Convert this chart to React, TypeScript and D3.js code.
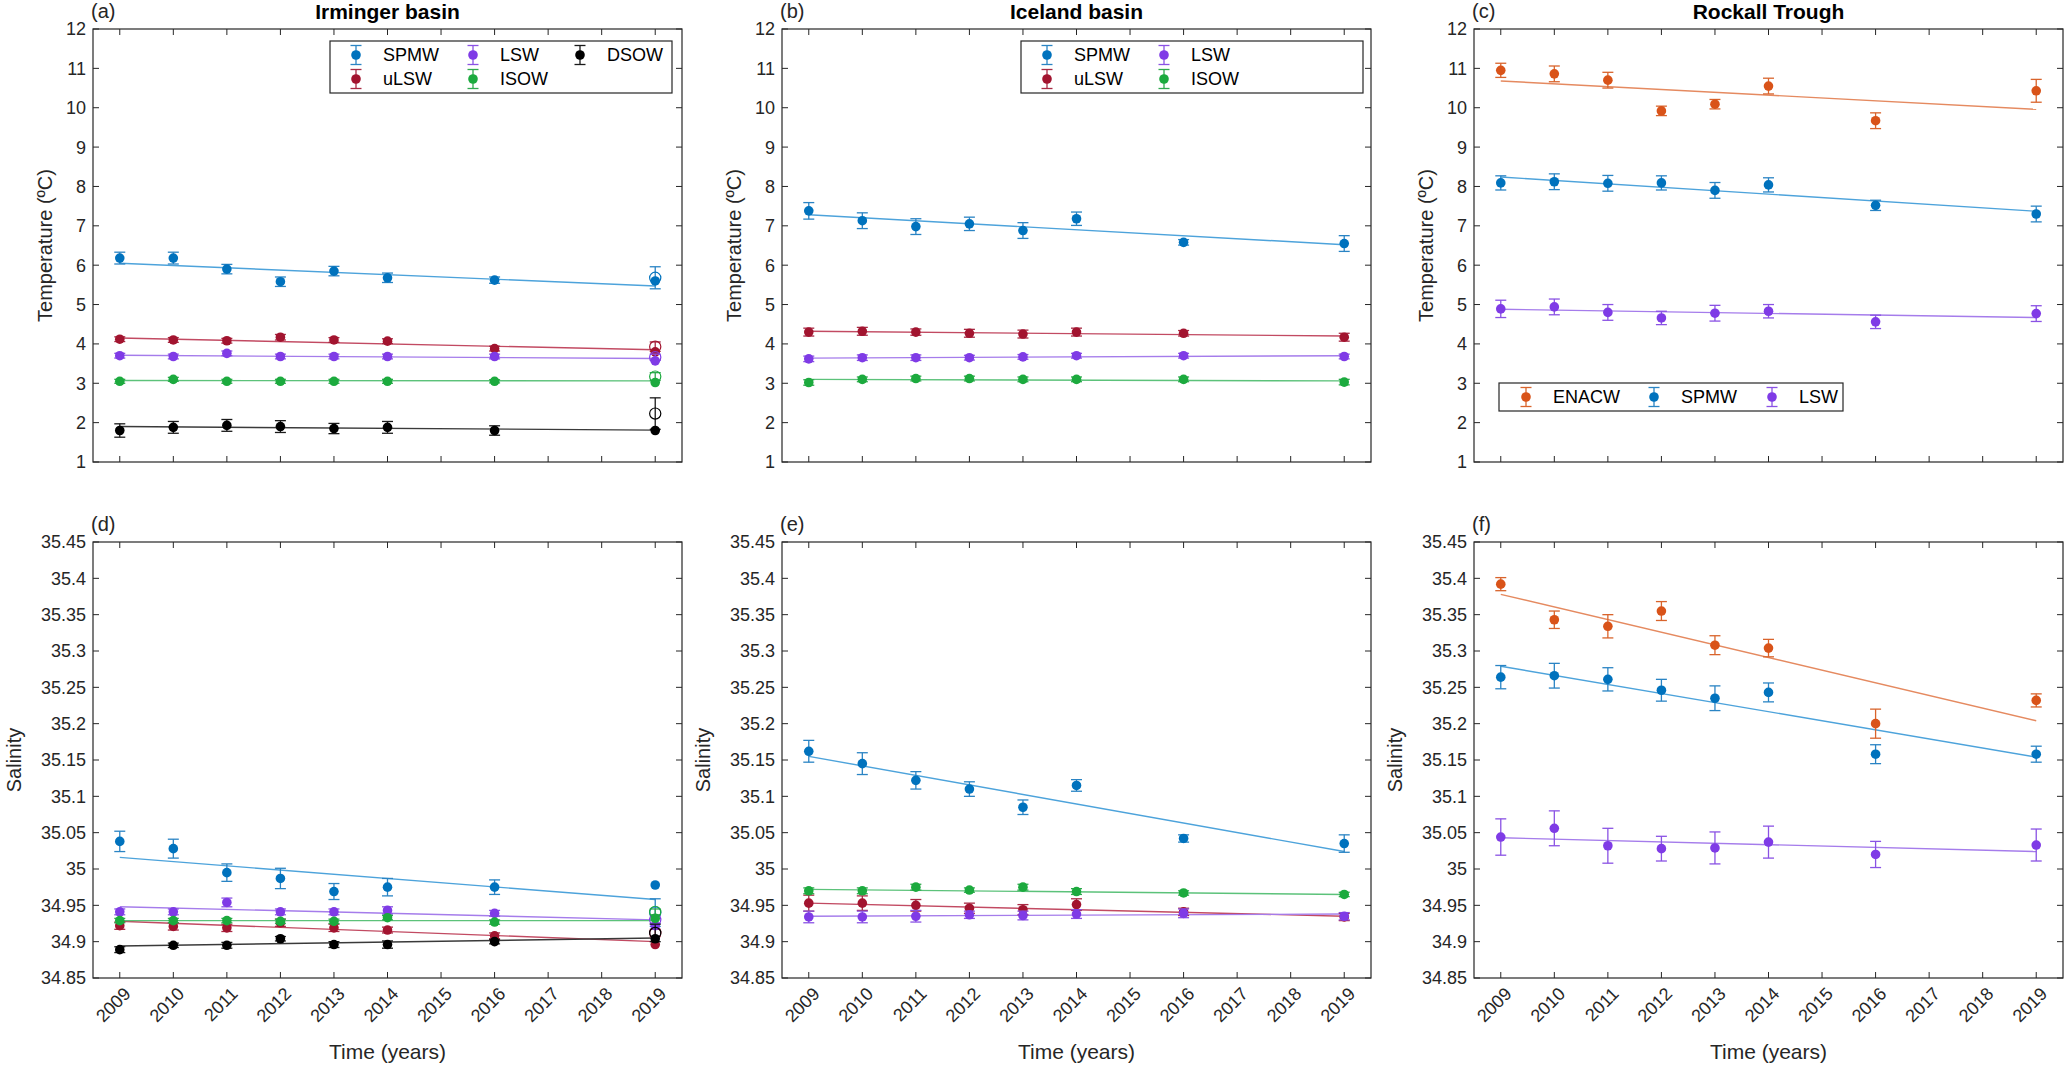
import React from 'react';
import * as d3 from 'd3';

// sampling years and axis ticks
const years = [2009, 2010, 2011, 2012, 2013, 2014, 2016, 2019];
const yearTicks = [2009, 2010, 2011, 2012, 2013, 2014, 2015, 2016, 2017, 2018, 2019];
const tempTicks = [1, 2, 3, 4, 5, 6, 7, 8, 9, 10, 11, 12];
const salTicks = [34.85, 34.9, 34.95, 35, 35.05, 35.1, 35.15, 35.2, 35.25, 35.3, 35.35, 35.4, 35.45];

// (a) Irminger temperature
const irmT_SPMW = [6.18, 6.18, 5.9, 5.58, 5.85, 5.68, 5.62, 5.6];
const irmT_SPMW_err = [0.15, 0.15, 0.12, 0.12, 0.12, 0.12, 0.08, 0];
const irmT_SPMW_fit = [6.05, 5.47];
const irmT_SPMW_open = [5.68, 0.28];
const irmT_uLSW = [4.12, 4.1, 4.08, 4.17, 4.1, 4.07, 3.88, 3.8];
const irmT_uLSW_err = [0.06, 0.06, 0.06, 0.07, 0.06, 0.06, 0.06, 0];
const irmT_uLSW_fit = [4.15, 3.85];
const irmT_uLSW_open = [3.93, 0.12];
const irmT_LSW = [3.7, 3.68, 3.76, 3.68, 3.68, 3.68, 3.68, 3.57];
const irmT_LSW_err = [0.06, 0.06, 0.06, 0.06, 0.06, 0.06, 0.06, 0];
const irmT_LSW_fit = [3.71, 3.63];
const irmT_LSW_open = [3.66, 0.08];
const irmT_ISOW = [3.05, 3.1, 3.05, 3.05, 3.05, 3.05, 3.05, 3.02];
const irmT_ISOW_err = [0.05, 0.05, 0.05, 0.05, 0.05, 0.05, 0.04, 0];
const irmT_ISOW_fit = [3.07, 3.06];
const irmT_ISOW_open = [3.17, 0.1];
const irmT_DSOW = [1.8, 1.88, 1.93, 1.9, 1.85, 1.88, 1.8, 1.8];
const irmT_DSOW_err = [0.17, 0.15, 0.15, 0.15, 0.13, 0.15, 0.12, 0];
const irmT_DSOW_fit = [1.9, 1.81];
const irmT_DSOW_open = [2.23, 0.4];

// (b) Iceland temperature
const iceT_SPMW = [7.38, 7.13, 6.98, 7.05, 6.88, 7.18, 6.58, 6.55];
const iceT_SPMW_err = [0.21, 0.2, 0.2, 0.17, 0.2, 0.17, 0.07, 0.2];
const iceT_SPMW_fit = [7.28, 6.52];
const iceT_uLSW = [4.3, 4.32, 4.3, 4.27, 4.25, 4.3, 4.27, 4.17];
const iceT_uLSW_err = [0.1, 0.1, 0.08, 0.1, 0.1, 0.1, 0.07, 0.1];
const iceT_uLSW_fit = [4.32, 4.2];
const iceT_LSW = [3.62, 3.65, 3.65, 3.65, 3.67, 3.7, 3.7, 3.68];
const iceT_LSW_err = [0.07, 0.07, 0.07, 0.06, 0.06, 0.06, 0.06, 0.06];
const iceT_LSW_fit = [3.64, 3.7];
const iceT_ISOW = [3.02, 3.1, 3.12, 3.12, 3.1, 3.1, 3.1, 3.03];
const iceT_ISOW_err = [0.07, 0.06, 0.06, 0.06, 0.06, 0.06, 0.06, 0.07];
const iceT_ISOW_fit = [3.1, 3.06];

// (c) Rockall temperature
const rocT_ENACW = [10.95, 10.86, 10.7, 9.92, 10.09, 10.55, 9.67, 10.43];
const rocT_ENACW_err = [0.18, 0.2, 0.2, 0.12, 0.12, 0.2, 0.2, 0.29];
const rocT_ENACW_fit = [10.68, 9.96];
const rocT_SPMW = [8.09, 8.12, 8.08, 8.09, 7.9, 8.04, 7.52, 7.3];
const rocT_SPMW_err = [0.18, 0.2, 0.2, 0.18, 0.2, 0.18, 0.13, 0.2];
const rocT_SPMW_fit = [8.24, 7.37];
const rocT_LSW = [4.89, 4.94, 4.8, 4.66, 4.78, 4.83, 4.56, 4.77];
const rocT_LSW_err = [0.22, 0.2, 0.2, 0.17, 0.2, 0.17, 0.17, 0.2];
const rocT_LSW_fit = [4.88, 4.67];

// (d) Irminger salinity
const irmS_SPMW = [35.038, 35.028, 34.995, 34.987, 34.969, 34.975, 34.975, 34.978];
const irmS_SPMW_err = [0.014, 0.013, 0.012, 0.014, 0.011, 0.012, 0.01, 0];
const irmS_SPMW_fit = [35.016, 34.958];
const irmS_SPMW_open = [34.94, 0.019];
const irmS_uLSW = [34.922, 34.921, 34.919, 34.926, 34.919, 34.916, 34.908, 34.896];
const irmS_uLSW_err = [0.005, 0.005, 0.005, 0.005, 0.005, 0.004, 0.004, 0];
const irmS_uLSW_fit = [34.928, 34.9];
const irmS_uLSW_open = [34.912, 0.005];
const irmS_LSW = [34.941, 34.941, 34.954, 34.941, 34.941, 34.943, 34.939, 34.922];
const irmS_LSW_err = [0.004, 0.004, 0.006, 0.004, 0.004, 0.005, 0.004, 0];
const irmS_LSW_fit = [34.948, 34.93];
const irmS_LSW_open = [34.93, 0.005];
const irmS_ISOW = [34.929, 34.929, 34.929, 34.928, 34.928, 34.933, 34.927, 34.932];
const irmS_ISOW_err = [0.003, 0.003, 0.003, 0.003, 0.003, 0.003, 0.003, 0];
const irmS_ISOW_fit = [34.929, 34.929];
const irmS_ISOW_open = [34.941, 0.004];
const irmS_DSOW = [34.889, 34.895, 34.895, 34.904, 34.896, 34.896, 34.9, 34.904];
const irmS_DSOW_err = [0.004, 0.003, 0.004, 0.003, 0.004, 0.005, 0.003, 0];
const irmS_DSOW_fit = [34.894, 34.905];
const irmS_DSOW_open = [34.912, 0.012];

// (e) Iceland salinity
const iceS_SPMW = [35.162, 35.145, 35.122, 35.11, 35.085, 35.115, 35.042, 35.035];
const iceS_SPMW_err = [0.015, 0.015, 0.012, 0.01, 0.01, 0.008, 0.005, 0.012];
const iceS_SPMW_fit = [35.155, 35.024];
const iceS_uLSW = [34.953, 34.953, 34.95, 34.946, 34.944, 34.951, 34.941, 34.934];
const iceS_uLSW_err = [0.011, 0.01, 0.008, 0.007, 0.007, 0.008, 0.005, 0.005];
const iceS_uLSW_fit = [34.953, 34.935];
const iceS_LSW = [34.934, 34.934, 34.935, 34.937, 34.936, 34.938, 34.939, 34.935];
const iceS_LSW_err = [0.008, 0.008, 0.008, 0.005, 0.006, 0.006, 0.006, 0.005];
const iceS_LSW_fit = [34.935, 34.938];
const iceS_ISOW = [34.97, 34.97, 34.975, 34.971, 34.975, 34.969, 34.967, 34.965];
const iceS_ISOW_err = [0.004, 0.004, 0.004, 0.003, 0.004, 0.004, 0.003, 0.003];
const iceS_ISOW_fit = [34.972, 34.965];

// (f) Rockall salinity
const rocS_ENACW = [35.392, 35.343, 35.334, 35.355, 35.308, 35.304, 35.2, 35.232];
const rocS_ENACW_err = [0.009, 0.012, 0.016, 0.013, 0.013, 0.012, 0.02, 0.009];
const rocS_ENACW_fit = [35.378, 35.204];
const rocS_SPMW = [35.264, 35.266, 35.261, 35.246, 35.235, 35.243, 35.158, 35.158];
const rocS_SPMW_err = [0.016, 0.017, 0.016, 0.015, 0.017, 0.013, 0.013, 0.011];
const rocS_SPMW_fit = [35.279, 35.154];
const rocS_LSW = [35.044, 35.056, 35.032, 35.028, 35.029, 35.037, 35.02, 35.033];
const rocS_LSW_err = [0.025, 0.024, 0.024, 0.017, 0.022, 0.022, 0.018, 0.022];
const rocS_LSW_fit = [35.043, 35.024];

const COLORS: Record<string, { mk: string; ln: string; eb: string }> = {
  SPMW: { mk: '#0072BD', ln: '#4DA3DB', eb: '#2A84C4' },
  uLSW: { mk: '#A2142F', ln: '#C24A62', eb: '#A82A44' },
  LSW: { mk: '#7F3BE6', ln: '#A57CEB', eb: '#8A52E4' },
  ISOW: { mk: '#1CAA3E', ln: '#5CC27A', eb: '#2FA94E' },
  DSOW: { mk: '#000000', ln: '#3A3A3A', eb: '#1A1A1A' },
  ENACW: { mk: '#D95319', ln: '#E58A60', eb: '#D9642C' },
};

interface Series {
  name: string;
  vals: number[];
  errs: number[];
  fit: number[];
  open?: number[];
}

const W = 589;
const FONT = '"Liberation Sans", Arial, Helvetica, sans-serif';
const AX = '#262626';

const fmt = (v: number) => String(+v.toFixed(2));

interface LegendDef {
  x: number;
  y: number;
  w: number;
  h: number;
  items: { name: string; dx: number; dy: number }[];
}

interface PanelProps {
  left: number;
  top: number;
  height: number;
  domain: [number, number];
  ticks: number[];
  series: Series[];
  yLabel: string;
  yLabelOff: number;
  letter: string;
  title?: string;
  showX: boolean;
  legend?: LegendDef;
}

function ErrBar({ x, y0, y1, color }: { x: number; y0: number; y1: number; color: string }) {
  const c = 5.5;
  return (
    <g stroke={color} strokeWidth={1.3}>
      <line x1={x} x2={x} y1={y0} y2={y1} />
      <line x1={x - c} x2={x + c} y1={y0} y2={y0} />
      <line x1={x - c} x2={x + c} y1={y1} y2={y1} />
    </g>
  );
}

function Panel(p: PanelProps) {
  const x = d3.scaleLinear().domain([2008.5, 2019.5]).range([p.left, p.left + W]);
  const y = d3.scaleLinear().domain(p.domain).range([p.top + p.height, p.top]);
  const bottom = p.top + p.height;
  const right = p.left + W;
  const tl = 6;

  return (
    <g fontFamily={FONT}>
      {/* fit lines */}
      {p.series.map(s => (
        <line
          key={'f' + s.name}
          x1={x(2009)}
          x2={x(2019)}
          y1={y(s.fit[0])}
          y2={y(s.fit[1])}
          stroke={COLORS[s.name].ln}
          strokeWidth={1.4}
        />
      ))}
      {/* error bars and markers */}
      {p.series.map(s => {
        const c = COLORS[s.name];
        return (
          <g key={'s' + s.name}>
            {years.map((yr, i) =>
              s.errs[i] > 0 ? (
                <ErrBar key={i} x={x(yr)} y0={y(s.vals[i] - s.errs[i])} y1={y(s.vals[i] + s.errs[i])} color={c.eb} />
              ) : null
            )}
            {s.open && (
              <>
                <ErrBar x={x(2019)} y0={y(s.open[0] - s.open[1])} y1={y(s.open[0] + s.open[1])} color={c.eb} />
                <circle cx={x(2019)} cy={y(s.open[0])} r={5.6} fill="none" stroke={c.mk} strokeWidth={1.2} />
              </>
            )}
            {years.map((yr, i) => (
              <circle key={i} cx={x(yr)} cy={y(s.vals[i])} r={4.8} fill={c.mk} />
            ))}
          </g>
        );
      })}

      {/* box */}
      <rect x={p.left} y={p.top} width={W} height={p.height} fill="none" stroke={AX} strokeWidth={1.2} />
      {yearTicks.map(t => (
        <g key={'xt' + t} stroke={AX} strokeWidth={1}>
          <line x1={x(t)} x2={x(t)} y1={bottom} y2={bottom - tl} />
          <line x1={x(t)} x2={x(t)} y1={p.top} y2={p.top + tl} />
        </g>
      ))}
      {p.ticks.map(t => (
        <g key={'yt' + t}>
          <line x1={p.left} x2={p.left + tl} y1={y(t)} y2={y(t)} stroke={AX} />
          <line x1={right} x2={right - tl} y1={y(t)} y2={y(t)} stroke={AX} />
          <text x={p.left - 7} y={y(t)} dy="0.36em" textAnchor="end" fontSize={18} fill={AX}>
            {fmt(t)}
          </text>
        </g>
      ))}
      {p.showX &&
        yearTicks.map(t => (
          <text
            key={'xl' + t}
            transform={`translate(${x(t) + 12},${bottom + 17}) rotate(-45)`}
            textAnchor="end"
            fontSize={18}
            fill={AX}
          >
            {t}
          </text>
        ))}
      {p.showX && (
        <text x={p.left + W / 2} y={1059} textAnchor="middle" fontSize={21} fill={AX}>
          Time (years)
        </text>
      )}
      <text
        transform={`translate(${p.left - p.yLabelOff},${p.top + p.height / 2}) rotate(-90)`}
        textAnchor="middle"
        dy="0.35em"
        fontSize={20}
        fill={AX}
      >
        {p.yLabel}
      </text>
      <text x={p.left - 2} y={p.top - 11} fontSize={20} fill={AX}>
        {p.letter}
      </text>
      {p.title && (
        <text x={p.left + W / 2} y={19} textAnchor="middle" fontSize={21} fontWeight="bold" fill="#000">
          {p.title}
        </text>
      )}
      {p.legend && (
        <g>
          <rect
            x={p.legend.x}
            y={p.legend.y}
            width={p.legend.w}
            height={p.legend.h}
            fill="#fff"
            stroke={AX}
            strokeWidth={1.2}
          />
          {p.legend.items.map(it => {
            const c = COLORS[it.name];
            const cx = p.legend!.x + it.dx;
            const cy = p.legend!.y + it.dy;
            return (
              <g key={'lg' + it.name}>
                <ErrBar x={cx} y0={cy + 9.5} y1={cy - 9.5} color={c.eb} />
                <circle cx={cx} cy={cy} r={4.8} fill={c.mk} />
                <text x={cx + 27} y={cy} dy="0.36em" fontSize={18} fill="#000">
                  {it.name}
                </text>
              </g>
            );
          })}
        </g>
      )}
    </g>
  );
}

const mk = (name: string, vals: number[], errs: number[], fit: number[], open?: number[]): Series => ({
  name,
  vals,
  errs,
  fit,
  open,
});

const lefts = [93, 782, 1474];
const topT = 29;
const hT = 433;
const topS = 542;
const hS = 436;

export default function App() {
  const tempLbl = 'Temperature (ºC)';
  const legAB = (x: number, five: boolean): LegendDef => ({
    x,
    y: 41,
    w: 342,
    h: 52,
    items: [
      { name: 'SPMW', dx: 26, dy: 14 },
      { name: 'uLSW', dx: 26, dy: 38 },
      { name: 'LSW', dx: 143, dy: 14 },
      { name: 'ISOW', dx: 143, dy: 38 },
      ...(five ? [{ name: 'DSOW', dx: 250, dy: 14 }] : []),
    ],
  });
  return (
    <div style={{ position: 'fixed', left: 0, top: 0, background: '#fff' }}>
      <svg width={2067} height={1068} style={{ display: 'block' }}>
        <rect width={2067} height={1068} fill="#fff" />
        <Panel
          left={lefts[0]}
          top={topT}
          height={hT}
          domain={[1, 12]}
          ticks={tempTicks}
          yLabel={tempLbl}
          yLabelOff={48}
          letter="(a)"
          title="Irminger basin"
          showX={false}
          series={[
            mk('SPMW', irmT_SPMW, irmT_SPMW_err, irmT_SPMW_fit, irmT_SPMW_open),
            mk('uLSW', irmT_uLSW, irmT_uLSW_err, irmT_uLSW_fit, irmT_uLSW_open),
            mk('LSW', irmT_LSW, irmT_LSW_err, irmT_LSW_fit, irmT_LSW_open),
            mk('ISOW', irmT_ISOW, irmT_ISOW_err, irmT_ISOW_fit, irmT_ISOW_open),
            mk('DSOW', irmT_DSOW, irmT_DSOW_err, irmT_DSOW_fit, irmT_DSOW_open),
          ]}
          legend={legAB(330, true)}
        />
        <Panel
          left={lefts[1]}
          top={topT}
          height={hT}
          domain={[1, 12]}
          ticks={tempTicks}
          yLabel={tempLbl}
          yLabelOff={48}
          letter="(b)"
          title="Iceland basin"
          showX={false}
          series={[
            mk('SPMW', iceT_SPMW, iceT_SPMW_err, iceT_SPMW_fit),
            mk('uLSW', iceT_uLSW, iceT_uLSW_err, iceT_uLSW_fit),
            mk('LSW', iceT_LSW, iceT_LSW_err, iceT_LSW_fit),
            mk('ISOW', iceT_ISOW, iceT_ISOW_err, iceT_ISOW_fit),
          ]}
          legend={legAB(1021, false)}
        />
        <Panel
          left={lefts[2]}
          top={topT}
          height={hT}
          domain={[1, 12]}
          ticks={tempTicks}
          yLabel={tempLbl}
          yLabelOff={48}
          letter="(c)"
          title="Rockall Trough"
          showX={false}
          series={[
            mk('ENACW', rocT_ENACW, rocT_ENACW_err, rocT_ENACW_fit),
            mk('SPMW', rocT_SPMW, rocT_SPMW_err, rocT_SPMW_fit),
            mk('LSW', rocT_LSW, rocT_LSW_err, rocT_LSW_fit),
          ]}
          legend={{
            x: 1499,
            y: 383,
            w: 344,
            h: 28,
            items: [
              { name: 'ENACW', dx: 27, dy: 14 },
              { name: 'SPMW', dx: 155, dy: 14 },
              { name: 'LSW', dx: 273, dy: 14 },
            ],
          }}
        />
        <Panel
          left={lefts[0]}
          top={topS}
          height={hS}
          domain={[34.85, 35.45]}
          ticks={salTicks}
          yLabel="Salinity"
          yLabelOff={79}
          letter="(d)"
          showX={true}
          series={[
            mk('SPMW', irmS_SPMW, irmS_SPMW_err, irmS_SPMW_fit, irmS_SPMW_open),
            mk('uLSW', irmS_uLSW, irmS_uLSW_err, irmS_uLSW_fit, irmS_uLSW_open),
            mk('LSW', irmS_LSW, irmS_LSW_err, irmS_LSW_fit, irmS_LSW_open),
            mk('ISOW', irmS_ISOW, irmS_ISOW_err, irmS_ISOW_fit, irmS_ISOW_open),
            mk('DSOW', irmS_DSOW, irmS_DSOW_err, irmS_DSOW_fit, irmS_DSOW_open),
          ]}
        />
        <Panel
          left={lefts[1]}
          top={topS}
          height={hS}
          domain={[34.85, 35.45]}
          ticks={salTicks}
          yLabel="Salinity"
          yLabelOff={79}
          letter="(e)"
          showX={true}
          series={[
            mk('SPMW', iceS_SPMW, iceS_SPMW_err, iceS_SPMW_fit),
            mk('uLSW', iceS_uLSW, iceS_uLSW_err, iceS_uLSW_fit),
            mk('LSW', iceS_LSW, iceS_LSW_err, iceS_LSW_fit),
            mk('ISOW', iceS_ISOW, iceS_ISOW_err, iceS_ISOW_fit),
          ]}
        />
        <Panel
          left={lefts[2]}
          top={topS}
          height={hS}
          domain={[34.85, 35.45]}
          ticks={salTicks}
          yLabel="Salinity"
          yLabelOff={79}
          letter="(f)"
          showX={true}
          series={[
            mk('ENACW', rocS_ENACW, rocS_ENACW_err, rocS_ENACW_fit),
            mk('SPMW', rocS_SPMW, rocS_SPMW_err, rocS_SPMW_fit),
            mk('LSW', rocS_LSW, rocS_LSW_err, rocS_LSW_fit),
          ]}
        />
      </svg>
    </div>
  );
}
